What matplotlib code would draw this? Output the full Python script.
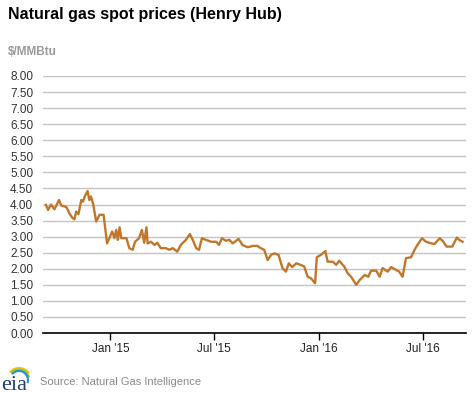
import numpy as np
import pandas as pd
import matplotlib
matplotlib.use("Agg")
from matplotlib import pyplot as plt
from matplotlib.patches import Arc

plt.rcParams['font.family'] = ['Liberation Sans', 'DejaVu Sans']

# Henry Hub spot price, $/MMBtu
dates = ["2014-09-10", "2014-09-14", "2014-09-19", "2014-09-25", "2014-10-03",
         "2014-10-07", "2014-10-16", "2014-10-21", "2014-10-26", "2014-10-30",
         "2014-11-02", "2014-11-06", "2014-11-11", "2014-11-14", "2014-11-17",
         "2014-11-22", "2014-11-25", "2014-11-28", "2014-12-02", "2014-12-07",
         "2014-12-13", "2014-12-20", "2014-12-26", "2014-12-30", "2015-01-04",
         "2015-01-08", "2015-01-11", "2015-01-14", "2015-01-17", "2015-01-20",
         "2015-01-29", "2015-02-03", "2015-02-09", "2015-02-13", "2015-02-20",
         "2015-02-25", "2015-03-01", "2015-03-05", "2015-03-07", "2015-03-13",
         "2015-03-19", "2015-03-24", "2015-03-30", "2015-04-08", "2015-04-14",
         "2015-04-20", "2015-04-28", "2015-05-04", "2015-05-13", "2015-05-20",
         "2015-05-25", "2015-05-31", "2015-06-05", "2015-06-10", "2015-06-17",
         "2015-06-26", "2015-07-05", "2015-07-10", "2015-07-15", "2015-07-22",
         "2015-07-28", "2015-08-03", "2015-08-13", "2015-08-20", "2015-08-29",
         "2015-09-07", "2015-09-15", "2015-09-21", "2015-09-27", "2015-10-03",
         "2015-10-09", "2015-10-15", "2015-10-22", "2015-10-29", "2015-11-04",
         "2015-11-09", "2015-11-15", "2015-11-22", "2015-11-30", "2015-12-06",
         "2015-12-12", "2015-12-18", "2015-12-25", "2015-12-28", "2016-01-04",
         "2016-01-12", "2016-01-16", "2016-01-25", "2016-01-31", "2016-02-05",
         "2016-02-14", "2016-02-20", "2016-02-26", "2016-03-06", "2016-03-12",
         "2016-03-21", "2016-03-27", "2016-04-01", "2016-04-10", "2016-04-16",
         "2016-04-21", "2016-04-30", "2016-05-06", "2016-05-15", "2016-05-20",
         "2016-05-26", "2016-06-01", "2016-06-10", "2016-06-16", "2016-06-21",
         "2016-06-29", "2016-07-06", "2016-07-15", "2016-07-21", "2016-07-30",
         "2016-08-04", "2016-08-11", "2016-08-21", "2016-08-29", "2016-09-02",
         "2016-09-08"]
prices = [3.99, 3.83, 4.00, 3.85, 4.14, 3.97, 3.92, 3.73, 3.59, 3.54,
          3.78, 3.70, 4.14, 4.09, 4.25, 4.42, 4.14, 4.25, 3.99, 3.47,
          3.68, 3.68, 2.79, 2.95, 3.16, 2.95, 3.21, 2.90, 3.29, 2.95,
          2.95, 2.64, 2.59, 2.84, 2.95, 3.21, 2.81, 3.29, 2.79, 2.84,
          2.74, 2.81, 2.64, 2.64, 2.59, 2.64, 2.53, 2.74, 2.90, 3.08,
          2.90, 2.64, 2.59, 2.95, 2.90, 2.84, 2.84, 2.74, 2.95, 2.87,
          2.90, 2.79, 2.93, 2.74, 2.67, 2.71, 2.71, 2.64, 2.59, 2.27,
          2.43, 2.48, 2.43, 2.02, 1.91, 2.17, 2.05, 2.17, 2.12, 2.07,
          1.75, 1.70, 1.55, 2.36, 2.43, 2.55, 2.22, 2.22, 2.12, 2.25,
          2.07, 1.86, 1.75, 1.50, 1.65, 1.81, 1.75, 1.94, 1.94, 1.75,
          2.02, 1.91, 2.05, 1.96, 1.91, 1.75, 2.33, 2.36, 2.59, 2.74,
          2.95, 2.84, 2.79, 2.77, 2.95, 2.87, 2.69, 2.69, 2.97, 2.90,
          2.84]

xtick_dates = ["2015-01-01", "2015-07-01", "2016-01-01", "2016-07-01"]
xtick_labels = ["Jan '15", "Jul '15", "Jan '16", "Jul '16"]
yticks = np.arange(0, 8.01, 0.5)

dates = pd.to_datetime(dates)

fig = plt.figure(figsize=(4.77, 3.93), dpi=100)
ax = fig.add_axes([43/477, 1 - 333/393, 423/477, 257/393])

ax.plot(dates, prices, color="#c0772c", linewidth=1.7, zorder=3)

ax.set_ylim(0, 8)
ax.set_xlim(pd.Timestamp("2014-09-05"), pd.Timestamp("2016-09-14"))
ax.set_yticks(yticks)
ax.set_yticklabels(["%.2f" % v for v in yticks], fontsize=8.5, color="#333333")
ax.set_xticks(pd.to_datetime(xtick_dates))
ax.set_xticklabels(xtick_labels, fontsize=8.5, color="#222222")
ax.tick_params(axis="y", length=0, pad=7)
ax.tick_params(axis="x", length=5, width=1, color="black", pad=2)
ax.grid(axis="y", color="#c4c4c4", linewidth=1)
ax.set_axisbelow(True)
for s in ["top", "right", "left"]:
    ax.spines[s].set_visible(False)
ax.spines["bottom"].set_color("black")
ax.spines["bottom"].set_linewidth(1.2)
ax.spines["bottom"].set_zorder(4)

fig.text(8/477, 1 - 15/393, "Natural gas spot prices (Henry Hub)", fontsize=11.5,
         fontweight="bold", color="black", va="center", ha="left")
fig.text(8/477, 1 - 52/393, "$/MMBtu", fontsize=8.5, fontweight="bold",
         color="#9a9a9a", va="center", ha="left")
fig.text(40/477, 1 - 382/393, "Source: Natural Gas Intelligence", fontsize=8,
         color="#8a8a8a", va="center", ha="left")

# eia logo
fig.text(1/477, 1 - 385/393, "eia", fontsize=16, family="Liberation Serif",
         color="#1d3f6e", va="center", ha="left")
lax = fig.add_axes([0, 0, 34/477, 33/393])
lax.set_xlim(0, 34)
lax.set_ylim(0, 33)
lax.axis("off")
for r, t1, c in zip([12, 10.5, 9], [35, 15, -20], ["#f2c318", "#8dc63f", "#2a8ed0"]):
    lax.add_patch(Arc((19, 13), 2 * r, 2 * r, theta1=t1, theta2=140,
                      color=c, linewidth=1.5))

fig.savefig("out.png", dpi=100)
